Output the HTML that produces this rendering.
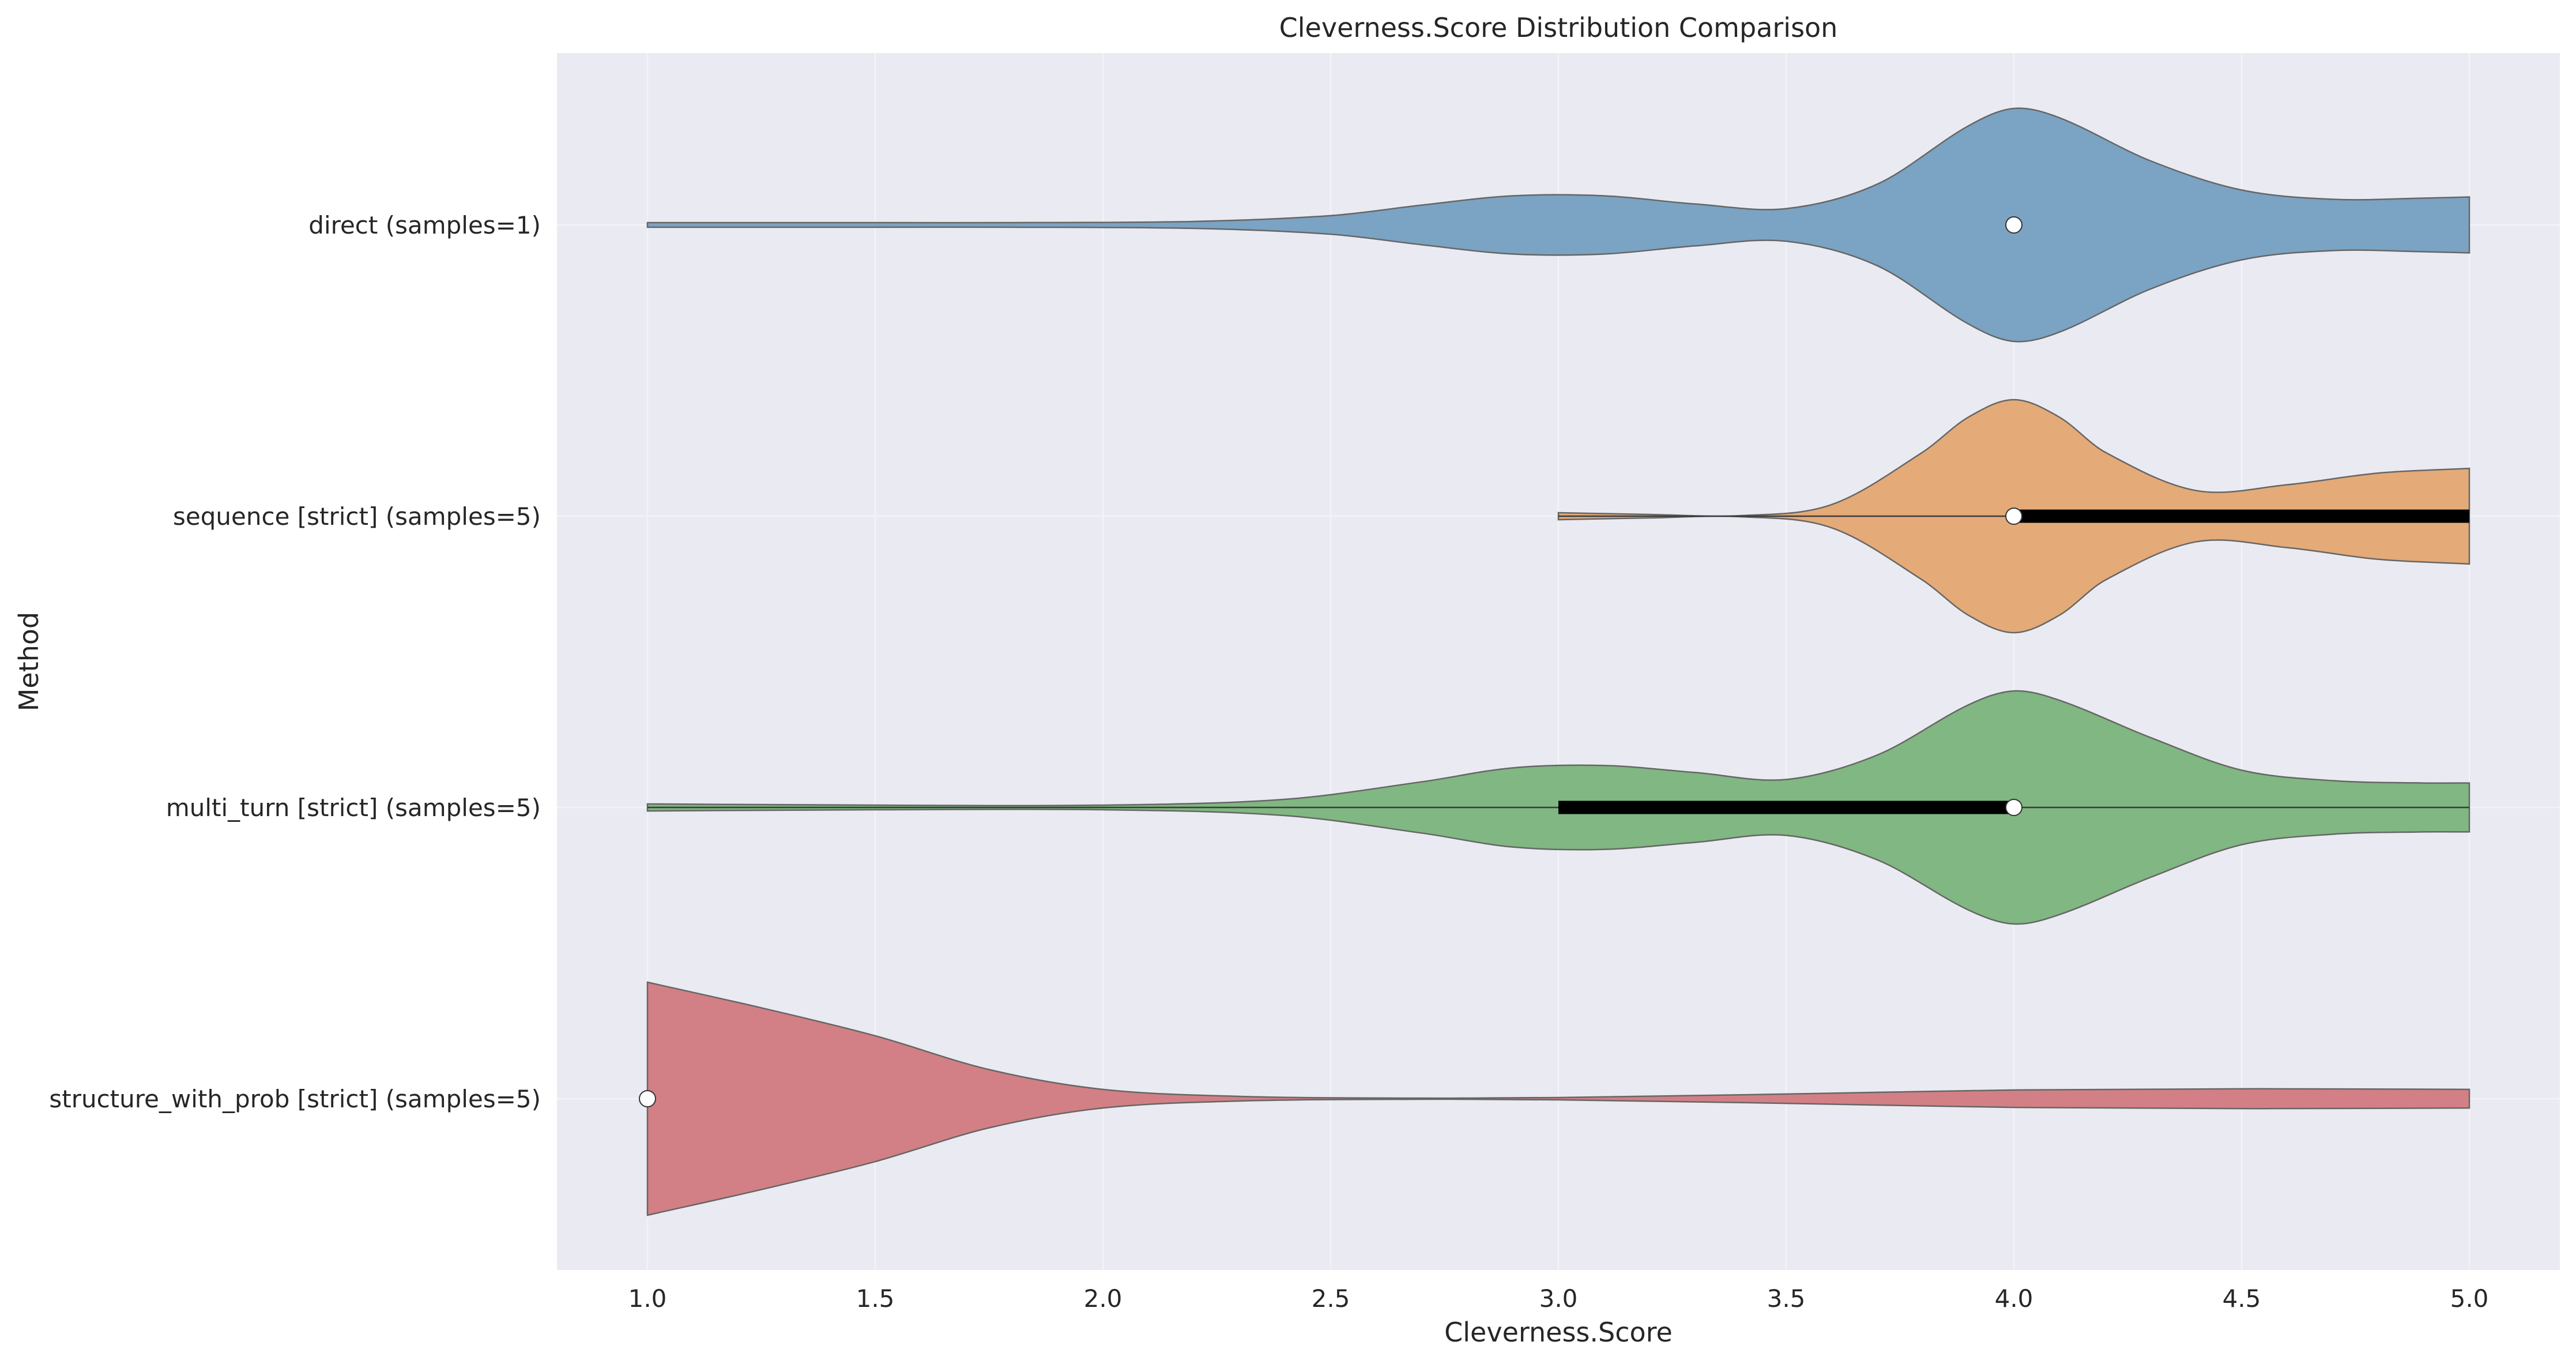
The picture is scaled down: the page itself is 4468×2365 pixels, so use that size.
<!DOCTYPE html>
<html><head><meta charset="utf-8">
<style>
html,body{margin:0;padding:0;background:#fff;}
svg{display:block;font-family:"DejaVu Sans","Liberation Sans",sans-serif;}
</style></head>
<body>
<svg id="chart" width="4468" height="2365" viewBox="0 0 4468 2365" xmlns="http://www.w3.org/2000/svg">
<rect x="966" y="92" width="3474" height="2110" fill="#eaeaf2"/>
<g id="grid"></g>
<g id="violins"></g>
<g id="axes"></g>
<text x="2703" y="64" font-size="46" text-anchor="middle" fill="#262626">Cleverness.Score Distribution Comparison</text>
<text x="2703" y="2326" font-size="46" text-anchor="middle" fill="#262626">Cleverness.Score</text>
<text x="0" y="0" transform="translate(66,1147) rotate(-90)" font-size="46" text-anchor="middle" fill="#262626">Method</text>
</svg>
<script>
const categories = ["direct (samples=1)","sequence [strict] (samples=5)","multi_turn [strict] (samples=5)","structure_with_prob [strict] (samples=5)"];
const xTicks = [1.0,1.5,2.0,2.5,3.0,3.5,4.0,4.5,5.0];
const xTickLabels = ["1.0","1.5","2.0","2.5","3.0","3.5","4.0","4.5","5.0"];
const colors = ["#7ba3c3","#e4aa78","#80b782","#d28085"];
// density profiles: x positions and relative half-widths
const densX0 = [1.0,1.4,1.8,2.2,2.5,2.7,2.9,3.1,3.3,3.5,3.7,3.9,4.0,4.1,4.3,4.5,4.7,4.9,5.0];
const densW0 = [0.02,0.02,0.02,0.03,0.08,0.17,0.25,0.25,0.18,0.14,0.35,0.85,1.0,0.92,0.55,0.3,0.22,0.23,0.24];
const densX1 = [3.0,3.2,3.4,3.6,3.8,3.9,4.0,4.1,4.2,4.4,4.6,4.8,5.0];
const densW1 = [0.03,0.015,0.005,0.1,0.55,0.85,1.0,0.85,0.55,0.22,0.27,0.37,0.41];
const densX2 = [1.0,1.5,2.0,2.4,2.7,2.9,3.1,3.3,3.5,3.7,3.9,4.0,4.1,4.3,4.5,4.7,4.9,5.0];
const densW2 = [0.03,0.02,0.02,0.07,0.22,0.34,0.36,0.3,0.24,0.45,0.88,1.0,0.92,0.6,0.32,0.23,0.21,0.21];
const densX3 = [1.0,1.25,1.5,1.75,2.0,2.3,2.7,3.0,3.5,4.0,4.5,5.0];
const densW3 = [1.0,0.78,0.54,0.25,0.08,0.02,0.005,0.01,0.04,0.075,0.085,0.08];
const medians = [4.0,4.0,4.0,1.0];
const q1 = [4.0,4.0,3.0,1.0];
const q3 = [4.0,5.0,4.0,1.0];
const whiskLo = [4.0,3.0,1.0,1.0];
const whiskHi = [4.0,5.0,5.0,1.0];

const densXs=[densX0,densX1,densX2,densX3], densWs=[densW0,densW1,densW2,densW3];
const NS="http://www.w3.org/2000/svg";
const xs = v => 1123 + (v-1)*790;
const ys = i => 390 + i*505;
const HALF = 202;
function mk(tag,attrs,parent){const e=document.createElementNS(NS,tag);for(const k in attrs)e.setAttribute(k,attrs[k]);parent.appendChild(e);return e;}
function segs(pts){
  let d='';
  for(let i=0;i<pts.length-1;i++){
    const p0=pts[Math.max(0,i-1)],p1=pts[i],p2=pts[i+1],p3=pts[Math.min(pts.length-1,i+2)];
    const h=p2[0]-p1[0];
    const s1=(p2[1]-p0[1])/((p2[0]-p0[0])||1), s2=(p3[1]-p1[1])/((p3[0]-p1[0])||1);
    const c1=[p1[0]+h/3,p1[1]+s1*h/3];
    const c2=[p2[0]-h/3,p2[1]-s2*h/3];
    d+=` C${c1[0]},${c1[1]} ${c2[0]},${c2[1]} ${p2[0]},${p2[1]}`;
  }
  return d;
}
const grid=document.getElementById('grid'), vg=document.getElementById('violins'), ax=document.getElementById('axes');
xTicks.forEach((t,i)=>{
  const l=mk('line',{x1:xs(t),x2:xs(t),y1:92,y2:2202,stroke:'#f3f3f7','stroke-width':2.5},grid);
  
  
  const tx=mk('text',{x:xs(t),y:2266,'font-size':42,'text-anchor':'middle',fill:'#262626'},ax);
  tx.textContent=xTickLabels[i];
  
  
});
categories.forEach((c,i)=>{
  const l=mk('line',{x1:966,x2:4440,y1:ys(i),y2:ys(i),stroke:'#f3f3f7','stroke-width':2.5},grid);
  
  
  const tx=mk('text',{x:938,y:ys(i)+15,'font-size':42,'text-anchor':'end',fill:'#262626'},ax);
  tx.textContent=c;
  
  
  const X=densXs[i],W=densWs[i];
  const top=X.map((x,k)=>[xs(x),ys(i)-W[k]*HALF]);
  const botF=X.map((x,k)=>[xs(x),ys(i)+W[k]*HALF]);
  const bot=botF.slice().reverse().map(p=>[p[0],p[1]]);
  // reverse path for bottom: compute forward then flip by building from reversed points with negated x-order handling
  const botPath=segs(bot.map(p=>[-p[0],p[1]])).replace(/(-?[\d.]+),(-?[\d.]+)/g,(m,a,b)=>`${-parseFloat(a)},${b}`);
  const d=`M${top[0][0]},${top[0][1]}`+segs(top)+` L${bot[0][0]},${bot[0][1]}`+botPath+' Z';
  const p=mk('path',{d:d,fill:colors[i],stroke:'#666','stroke-width':2.5},vg);
  
  
  const wl=mk('line',{x1:xs(whiskLo[i]),x2:xs(whiskHi[i]),y1:ys(i),y2:ys(i),stroke:'#3a3a3a','stroke-width':2.5},vg);
  
  
  if(q3[i]>q1[i]){
    const b=mk('line',{x1:xs(q1[i]),x2:xs(q3[i]),y1:ys(i),y2:ys(i),stroke:'#000','stroke-width':23},vg);
    
    
  }
  const m=mk('circle',{cx:xs(medians[i]),cy:ys(i),r:14,fill:'#fff',stroke:'#333','stroke-width':2},vg);
  
  
});
</script>
</body></html>
